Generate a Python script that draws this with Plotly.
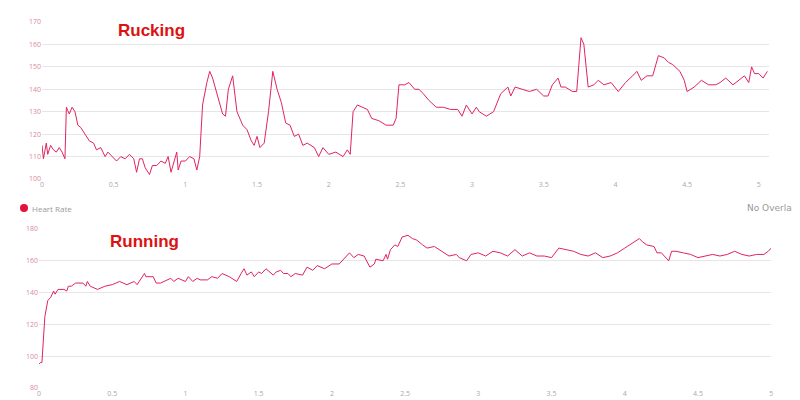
import plotly.graph_objects as go

ruck_x = [0,0.01,0.03,0.04,0.06,0.08,0.1,0.12,0.14,0.16,0.17,0.19,0.21,0.23,0.25,0.27,0.3,0.33,0.36,0.38,0.41,0.44,0.46,0.49,0.52,0.55,0.58,0.61,0.64,0.66,0.68,0.7,0.72,0.75,0.77,0.8,0.83,0.86,0.88,0.9,0.92,0.94,0.95,0.97,1.0,1.03,1.06,1.08,1.1,1.12,1.15,1.17,1.19,1.23,1.26,1.28,1.3,1.33,1.36,1.4,1.43,1.46,1.48,1.5,1.52,1.55,1.58,1.61,1.64,1.67,1.7,1.73,1.76,1.79,1.82,1.85,1.9,1.93,1.96,2.0,2.05,2.1,2.13,2.15,2.17,2.2,2.23,2.27,2.3,2.35,2.4,2.45,2.47,2.49,2.53,2.56,2.6,2.63,2.66,2.7,2.75,2.8,2.85,2.9,2.93,2.96,3.0,3.03,3.05,3.1,3.15,3.2,3.25,3.27,3.3,3.35,3.4,3.45,3.5,3.53,3.56,3.6,3.62,3.65,3.7,3.73,3.76,3.78,3.81,3.85,3.88,3.92,3.97,4.02,4.07,4.12,4.15,4.18,4.22,4.26,4.3,4.34,4.37,4.4,4.45,4.48,4.5,4.55,4.6,4.65,4.7,4.73,4.77,4.82,4.86,4.9,4.93,4.95,4.97,5.0,5.03,5.06]
ruck_y = [115,109,116,111,115,113,112,114,112,109,132,129,132,130,124,123,120,117,116,113,114,110,112,110,108,110,109,111,109,103,109,109,105,102,106,106,108,107,110,103,108,112,104,108,108,110,109,104,110,133,143,148,145,136,129,128,140,146,130,124,122,117,115,119,114,116,130,148,140,134,125,124,119,120,115,116,114,110,114,111,112,110,113,111,130,133,132,131,127,126,124,124,127,142,142,143,140,140,138,135,132,132,131,131,128,133,129,132,130,128,130,138,141,137,141,140,139,140,137,137,142,145,141,141,139,139,163,160,141,142,144,142,143,139,143,146,148,144,146,146,155,154,152,151,148,144,139,141,144,142,142,143,145,142,144,146,143,150,147,147,145,148]

run_x = [0,0.01,0.02,0.04,0.06,0.08,0.1,0.11,0.13,0.17,0.19,0.2,0.22,0.25,0.3,0.32,0.33,0.35,0.4,0.45,0.5,0.55,0.6,0.65,0.67,0.72,0.73,0.78,0.8,0.83,0.9,0.92,0.95,1.0,1.02,1.05,1.08,1.1,1.15,1.18,1.22,1.25,1.3,1.35,1.38,1.4,1.42,1.45,1.47,1.5,1.52,1.55,1.6,1.62,1.65,1.67,1.7,1.72,1.75,1.8,1.83,1.87,1.9,1.95,2.0,2.05,2.1,2.12,2.15,2.18,2.22,2.26,2.29,2.3,2.35,2.37,2.38,2.4,2.43,2.45,2.48,2.52,2.55,2.58,2.62,2.65,2.7,2.75,2.8,2.85,2.87,2.92,2.95,3.0,3.05,3.1,3.15,3.2,3.25,3.3,3.35,3.4,3.45,3.5,3.55,3.6,3.65,3.7,3.75,3.8,3.85,3.9,3.95,4.0,4.05,4.1,4.12,4.15,4.2,4.22,4.25,4.28,4.3,4.32,4.35,4.4,4.45,4.5,4.55,4.6,4.65,4.7,4.75,4.8,4.85,4.9,4.95,4.98,5.0]
run_y = [95,96,96,125,135,137,141,139,142,142,141,144,144,146,146,144,147,144,142,144,145,147,145,147,145,152,150,150,146,146,149,147,149,147,150,147,149,148,148,150,149,152,150,147,152,155,151,153,150,153,152,155,151,153,154,152,152,150,152,151,156,154,157,155,158,158,163,165,162,164,163,156,158,161,160,164,161,167,170,169,175,176,174,173,170,168,169,166,163,164,162,160,164,165,163,166,165,163,167,163,165,163,163,162,168,167,166,164,163,165,162,163,165,168,171,174,172,170,169,165,165,162,160,166,166,165,164,162,163,164,163,164,166,164,163,164,164,166,168]

LINE = "#e0245e"
TICK = dict(size=7, color="#d98aa0", family="Open Sans")
fig = go.Figure()
fig.add_trace(go.Scatter(x=ruck_x, y=ruck_y, mode="lines", line=dict(color=LINE, width=1), xaxis="x", yaxis="y", showlegend=False))
fig.add_trace(go.Scatter(x=run_x, y=run_y, mode="lines", line=dict(color=LINE, width=1), xaxis="x2", yaxis="y2", showlegend=False))

ax = dict(showgrid=False, zeroline=False, showline=False, ticks="", automargin=False,
          tickfont=dict(size=7, color="#aaaaaa", family="Open Sans"), dtick=0.5, tickformat="~g")
ay = dict(showgrid=True, gridcolor="#e6e6e6", gridwidth=1, zeroline=False, automargin=False,
          tickfont=TICK, dtick=10)
fig.update_layout(
    width=800, height=400, margin=dict(l=0, r=0, t=0, b=0, autoexpand=False),
    paper_bgcolor="white", plot_bgcolor="white",
    xaxis=dict(ax, domain=[0.0425, 0.951], range=[0, 5.07], anchor="y"),
    yaxis=dict(ay, domain=[0.5725, 0.965], range=[100, 170], anchor="x"),
    xaxis2=dict(ax, domain=[0.03875, 0.954], range=[0, 5], anchor="y2"),
    yaxis2=dict(ay, domain=[0.05, 0.4475], range=[80, 180], dtick=20, anchor="x2"),
    annotations=[
        dict(text="<b>Rucking</b>", x=108/800, y=1-22/400, xref="paper", yref="paper", xanchor="left", yanchor="middle", showarrow=False, font=dict(size=17, color="#dd1111", family="Liberation Sans")),
        dict(text="<b>Running</b>", x=100/800, y=1-233/400, xref="paper", yref="paper", xanchor="left", yanchor="middle", showarrow=False, font=dict(size=17, color="#dd1111", family="Liberation Sans")),
        dict(text="Heart Rate", x=22/800, y=1-200/400, xref="paper", yref="paper", xanchor="left", yanchor="middle", showarrow=False, font=dict(size=8, color="#999999", family="Open Sans")),
        dict(text="No Overlay▾", x=796/800, y=1-200/400, xref="paper", yref="paper", xanchor="right", yanchor="middle", showarrow=False, font=dict(size=9, color="#999999", family="DejaVu Sans")),
    ],
    shapes=[dict(type="circle", xref="paper", yref="paper", x0=12/800, x1=20/800, y0=1-204/400, y1=1-196/400, fillcolor="#e8103c", line=dict(width=0))],
)
fig.write_html("out.html")
